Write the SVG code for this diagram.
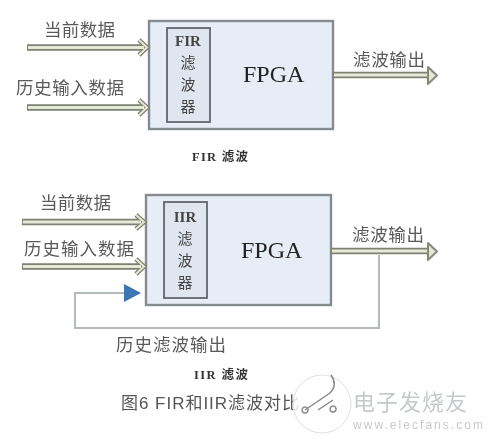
<svg xmlns="http://www.w3.org/2000/svg" width="500" height="448" viewBox="0 0 500 448">
<style>
text{font-family:"Liberation Serif","Noto Sans CJK SC",serif;fill:#3a3a3a}
.cn{font-size:17.5px;fill:#5a5a5a}
.box{fill:#e6edf7;stroke:#868b8f;stroke-width:2.4}
.inner{fill:#dfe6f0;stroke:#5f666c;stroke-width:1.8}
.fir{font-size:15px;text-anchor:middle;fill:#444}
.firb{font-size:15px;text-anchor:middle;fill:#444;font-weight:bold}
.fpga{font-size:24px;fill:#222}
.shaft{fill:none;stroke:#7d8172;stroke-width:6.5}
.core{fill:none;stroke:#e8ead8;stroke-width:3}
.head{fill:#e4e6d4;stroke:#85897a;stroke-width:2;stroke-linejoin:round}
.open{fill:none;stroke:#7d8172;stroke-width:4.5}
.opencore{fill:none;stroke:#e8ead8;stroke-width:2}
.fb{fill:none;stroke:#b4bab8;stroke-width:2}
.cap{font-size:12.5px;font-weight:bold;fill:#333}
.wm{fill:#c6c9cc}
</style>
<defs><filter id="soft" x="-5%" y="-5%" width="110%" height="110%"><feGaussianBlur stdDeviation="0.6"/></filter></defs>
<rect width="500" height="448" fill="#fff"/>
<g filter="url(#soft)">
<g id="fir-fpga">
<rect class="box" x="149" y="21" width="184" height="108"/>
<text class="fpga" x="243" y="82">FPGA</text>
</g>
<g id="fir-filter">
<rect class="inner" x="167" y="28" width="43" height="94"/>
<text class="firb" x="188" y="46">FIR</text>
<text class="fir" x="188" y="68">滤</text>
<text class="fir" x="188" y="90">波</text>
<text class="fir" x="188" y="112">器</text>
</g>
<g id="iir-fpga">
<rect class="box" x="146" y="195" width="185" height="110"/>
<text class="fpga" x="241" y="258">FPGA</text>
</g>
<g id="iir-filter">
<rect class="inner" x="164" y="202" width="43" height="96"/>
<text class="firb" x="185" y="222">IIR</text>
<text class="fir" x="185" y="244">滤</text>
<text class="fir" x="185" y="266">波</text>
<text class="fir" x="185" y="288">器</text>
</g>
<g id="connectors">
<path class="shaft" d="M27 47.500H145M27 107.500H145M22 222H142M22 266.500H142"/>
<path class="open" d="M139 40L147 47.500L139 55M139 100L147 107.500L139 115M136 215L144 222L136 229M136 259L144 266.500L136 274"/>
<path class="core" d="M28 47.500H144M28 107.500H144M23 222H141M23 266.500H141"/>
<path class="opencore" d="M139 40L147 47.500L139 55M139 100L147 107.500L139 115M136 215L144 222L136 229M136 259L144 266.500L136 274"/>
<path class="shaft" d="M333 75H430M331 251H428"/>
<path class="core" d="M334 75H431M332 251H429"/>
<path class="head" d="M428 67L437 75.500L428 84Z"/>
<path class="head" d="M428 243L437 251.500L428 260Z"/>
<path class="fb" d="M379 255V328H75V293H125"/>
<path d="M124 284L141 293L124 302Z" fill="#3d76b4"/>
</g>
<g id="labels">
<text class="cn" x="44" y="36" textLength="71">当前数据</text>
<text class="cn" x="16" y="94" textLength="108">历史输入数据</text>
<text class="cn" x="353" y="66" textLength="72">滤波输出</text>
<text class="cap" x="192" y="161" textLength="56">FIR 滤波</text>
<text class="cn" x="40" y="209" textLength="71">当前数据</text>
<text class="cn" x="24" y="255" textLength="110">历史输入数据</text>
<text class="cn" x="352" y="241" textLength="72">滤波输出</text>
<text class="cn" x="116" y="351" textLength="110">历史滤波输出</text>
<text class="cap" x="194" y="379" textLength="54">IIR 滤波</text>
<text x="121" y="409" font-size="17" style="font-family:'Liberation Sans','Noto Sans CJK SC',sans-serif;fill:#555" textLength="178">图6  FIR和IIR滤波对比</text>
</g>
<g id="watermark">
<circle cx="322" cy="404" r="29" fill="#fff" fill-opacity="0.8" stroke="#dcdee0" stroke-width="1"/>
<path d="M305 410L330 393M330 393Q338 385 331 375M318 410L333 400M305 407a3 3 0 1 0 0.100 0M333 406a3 3 0 1 0 0.100 0" fill="none" stroke="#85888c" stroke-width="1.500"/>
<text class="wm" x="353" y="410" font-size="22" textLength="114" style="font-family:'Noto Sans CJK SC',sans-serif">电子发烧友</text>
<text class="wm" x="353" y="429" font-size="12" textLength="130" style="font-family:'Liberation Sans',sans-serif">www.elecfans.com</text>
</g>
</g>
</svg>
